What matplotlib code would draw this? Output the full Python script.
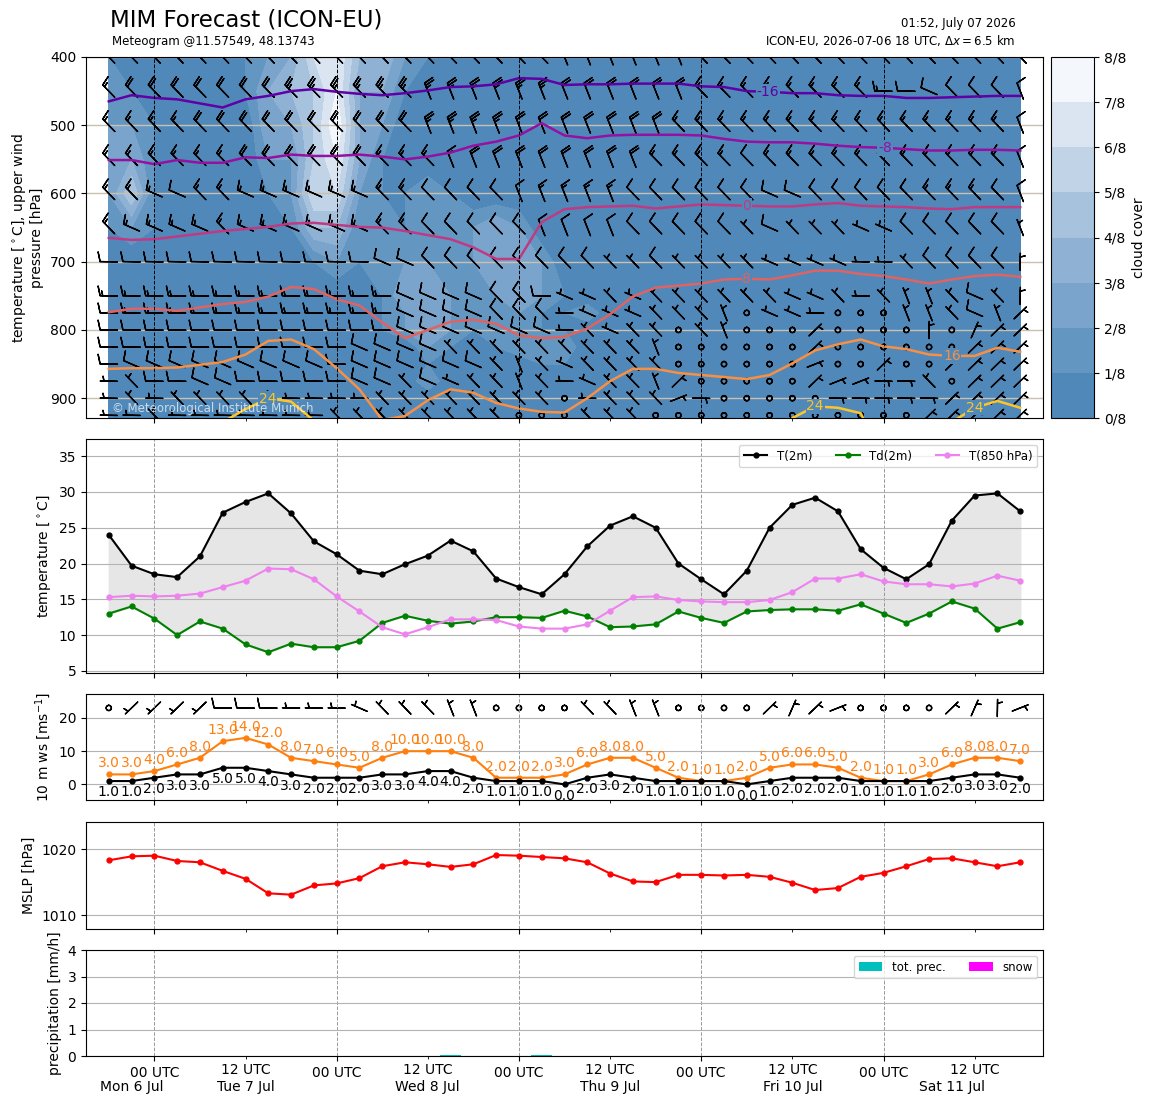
import numpy as np
import matplotlib
matplotlib.use('Agg')
import matplotlib.pyplot as plt
from matplotlib.colors import LinearSegmentedColormap, Normalize

# hours since model start 2026-07-06 18 UTC, 3-hourly
hours = np.arange(0, 121, 3)

# --- surface values -------------------------------------------------------
t2m = [24.0, 19.7, 18.5, 18.1, 21.0, 27.1, 28.6, 29.8, 27.0, 23.1,
       21.3, 19.0, 18.5, 19.9, 21.1, 23.2, 21.7, 17.9, 16.7, 15.7,
       18.5, 22.4, 25.3, 26.6, 25.0, 20.0, 17.8, 15.7, 19.0, 25.0,
       28.2, 29.2, 27.3, 22.0, 19.4, 17.8, 19.9, 26.0, 29.5, 29.8, 27.3]
td2m = [13.0, 14.0, 12.3, 10.0, 11.9, 10.9, 8.7, 7.6, 8.8, 8.3,
        8.3, 9.2, 11.7, 12.7, 12.0, 11.6, 11.9, 12.5, 12.5, 12.4,
        13.4, 12.6, 11.1, 11.2, 11.5, 13.3, 12.4, 11.7, 13.3, 13.5,
        13.6, 13.6, 13.4, 14.3, 13.0, 11.7, 13.0, 14.7, 13.7, 10.9, 11.8]
t850 = [15.3, 15.5, 15.4, 15.5, 15.8, 16.7, 17.6, 19.3, 19.2, 17.8,
        15.4, 13.3, 11.1, 10.1, 11.1, 12.2, 12.2, 12.1, 11.2, 10.9,
        10.9, 11.5, 13.4, 15.3, 15.4, 14.9, 14.7, 14.6, 14.6, 14.9,
        16.0, 17.9, 17.9, 18.5, 17.5, 17.1, 17.1, 16.8, 17.2, 18.3, 17.6]
gust10 = [3, 3, 4, 6, 8, 13, 14, 12, 8, 7, 6, 5, 8, 10, 10, 10, 8, 2, 2, 2,
          3, 6, 8, 8, 5, 2, 1, 1, 2, 5, 6, 6, 5, 2, 1, 1, 3, 6, 8, 8, 7]
ws10 = [1, 1, 2, 3, 3, 5, 5, 4, 3, 2, 2, 2, 3, 3, 4, 4, 2, 1, 1, 1,
        0, 2, 3, 2, 1, 1, 1, 1, 0, 1, 2, 2, 2, 1, 1, 1, 1, 2, 3, 3, 2]
mslp = [1018.3, 1018.9, 1019.0, 1018.2, 1018.0, 1016.7, 1015.5, 1013.3, 1013.1, 1014.5,
        1014.8, 1015.6, 1017.4, 1018.0, 1017.7, 1017.3, 1017.7, 1019.1, 1019.0, 1018.8,
        1018.6, 1018.0, 1016.3, 1015.1, 1015.0, 1016.1, 1016.1, 1016.0, 1016.1, 1015.8,
        1014.9, 1013.8, 1014.1, 1015.8, 1016.4, 1017.4, 1018.5, 1018.6, 1018.0, 1017.4, 1018.0]
prec = [0]*15 + [0.05] + [0]*3 + [0.05] + [0]*21
snow = [0]*41

# 10 m wind barbs: direction in 16 compass points (hex, 0=N, 4=E, 8=S, c=W), speed in 5 kt steps
sfc_dir = "caaaaccccc cdeeeffccc ceeffcccc2 123cccc210 3"
sfc_spd = "0111122211 1111111000 0111100001 1110000111 1"

# --- upper air ------------------------------------------------------------
plevs = [400, 450, 500, 550, 600, 650, 700, 750, 775, 800, 825, 850, 875, 900, 925]
wind_dir = [
    "eeeeeeeeee eeeeeeeeee ffffffeeee eeeeeeeeee e",
    "eeeeeeeeee eeeeffffff ffffffeeee eeeeccdeee f",
    "eeeeeeeeee eeeeffffff fffffeeeee eeeeeeeeee f",
    "eeeeeeeeee eeeeefffff ffffeeeeee eeeeeeeeee f",
    "eeddeedddd ddeeeeeeff fffeeeeeed deeeeeeeee f",
    "eddddedddd ddeeeeeeef fffeeeeeed eeeddeeeee f",
    "cccccccccc ccddeeeeee eeeeeeeeed dddcceeeee 0",
    "cccccccccc cccddddeec ddedeeeeee ddeceffede 0",
    "cccccccccc cccddddeee cdddeeefcd dccccffedf 2",
    "cccccccccc cccddddddd cedeecefcc c2cccc0c12 2",
    "cccccccccc cddddeeeee eeeefccccc c2cccccc22 2",
    "cddddddddd cddddddefe deeeeccccc c3cc2cc222 2",
    "ceccddcccc cddeddeefe cdeef2cccc c23344ec22 2",
    "ceceeeeecc cceeeeeeee cceee34ccc cc44444222 2",
    "cceccccccc eeeeeeeecc ceeecccccc cccccc2222 2",
]
wind_spd = [
    "4444444455 5555555555 4444443333 3333333333 3",
    "3444444455 5555555555 4444443333 3333322222 2",
    "3333444444 4444555544 4444433333 3333333333 2",
    "3333334444 4433334444 4444333323 3333333333 2",
    "3332333333 3333222223 3332222222 2222223332 2",
    "3333333333 3333222222 2222222212 1111122222 1",
    "2222222222 2222222222 2211211111 1111112222 1",
    "3333333333 3332222222 1111111111 1111111121 1",
    "2333333333 3332222222 1111111101 1100011121 1",
    "2222222222 2222222222 1111101100 0100001011 1",
    "2222222222 2222211111 1111100000 0100000011 1",
    "2222222222 2222222111 1111100000 0100100111 1",
    "1122222222 2221211111 1111110000 0111111011 1",
    "1111111111 1111111111 0111111000 0011111111 1",
    "1111111111 1111111100 0111000000 0000001111 1",
]
# cloud cover in eighths on the same levels (plus a clear row at 950 hPa)
cloud_plevs = plevs + [950]
cloud8 = [
    "1000001236 7442100000 0000000000 0000000000 0",
    "2110001345 7331000000 0000000000 0000000000 0",
    "2210000335 8320000000 0000000000 0000000000 0",
    "3310000225 7310000000 0000000000 0000000000 0",
    "2510000126 6211210000 0000000000 0000000000 0",
    "1210000014 4121222320 0000000000 0000000000 0",
    "0000000001 2122222332 0000000000 0000000000 0",
    "0000000000 0113322232 1000000000 0000000000 0",
    "0000000000 0012322221 1200000000 0000000000 0",
    "0000000000 0012321221 1000000000 0000000000 0",
    "0000000000 0000211122 2000000000 0000000000 0",
    "0000000000 0000100001 1000000000 0000000000 0",
    "0000000000 0000200000 0000000000 0000000000 0",
    "0000000000 0000000000 0000000000 0000000000 0",
    "0000000000 0000000000 0000000000 0000000000 0",
    "0000000000 0000000000 0000000000 0000000000 0",
]
# pressure [hPa] of the isotherms
nan = np.nan
iso_temps = [-16, -8, 0, 8, 16, 24]
iso_p = {
    -16: [465, 456, 460, 462, 468, 474, 462, 457, 450, 447, 451, 454, 456, 453, 449, 444,
          443, 440, 431, 432, 441, 440, 440, 439, 439, 439, 443, 444, 450, 451, 453, 453,
          456, 457, 457, 460, 460, 459, 458, 457, 457],
    -8: [551, 551, 557, 551, 555, 555, 547, 548, 543, 545, 545, 543, 546, 550, 546, 540,
         530, 524, 515, 497, 515, 519, 515, 514, 514, 514, 515, 520, 524, 525, 525, 527,
         530, 532, 533, 535, 537, 537, 536, 536, 537],
    0: [665, 668, 667, 663, 659, 655, 652, 649, 644, 643, 646, 649, 650, 655, 661, 667,
        679, 696, 696, 642, 623, 620, 619, 618, 622, 619, 616, 617, 618, 619, 619, 616,
        614, 618, 619, 620, 622, 623, 620, 620, 620],
    8: [774, 769, 769, 772, 767, 762, 759, 751, 737, 740, 755, 764, 789, 812, 800, 788,
        785, 791, 808, 812, 810, 798, 777, 751, 738, 735, 732, 726, 725, 726, 720, 713,
        713, 718, 721, 726, 732, 726, 721, 719, 722],
    16: [857, 856, 856, 855, 851, 847, 836, 816, 814, 828, 856, 887, 932, 926, 903, 887,
         892, 907, 915, 920, 921, 900, 875, 857, 857, 863, 866, 869, 872, 866, 849, 830,
         821, 814, 824, 828, 836, 838, 838, 826, 832],
    24: [nan]*5 + [935, 916, 900, 905, 933] + [nan]*19 + [970, 929, 912, 914, 922, 990]
        + [nan]*2 + [935, 914, 904, 914],
}
iso_label_t = {-16: [86.8], -8: [102.2], 0: [84.0], 8: [84.0], 16: [111.0],
               24: [20.9, 93.0, 114.0]}

major = [6, 30, 54, 78, 102]      # 00 UTC
minor = [18, 42, 66, 90, 114]     # 12 UTC
day_names = ['Mon 6 Jul', 'Tue 7 Jul', 'Wed 8 Jul', 'Thu 9 Jul', 'Fri 10 Jul', 'Sat 11 Jul']
day_t = [3, 18, 42, 66, 90, 111]


def to_uv(dstr, sstr):
    # a tiny offset keeps pure west/east winds away from exact 90/270 deg
    d = np.array([int(c, 16) for c in dstr.replace(' ', '')]) * 22.5 + 1.0
    s = np.array([int(c) for c in sstr.replace(' ', '')]) * 5.0
    r = np.deg2rad(d)
    return -s * np.sin(r), -s * np.cos(r)


W, H = 1155, 1105
fig = plt.figure(figsize=(W / 100, H / 100), dpi=100)


def box(x0, y0, x1, y1):
    return [x0 / W, 1 - y1 / H, (x1 - x0) / W, (y1 - y0) / H]


ax1 = fig.add_axes(box(86, 57, 1043, 418))
cax = fig.add_axes(box(1051, 57, 1094, 418))
ax2 = fig.add_axes(box(86, 439, 1043, 673))
ax3 = fig.add_axes(box(86, 694, 1043, 800))
ax4 = fig.add_axes(box(86, 822, 1043, 929))
ax5 = fig.add_axes(box(86, 950, 1043, 1056))
axes = [ax1, ax2, ax3, ax4, ax5]

barb_kw = dict(length=5.0, pivot='middle', linewidth=1.0, color='k',
               sizes=dict(height=0.55, spacing=0.15))

# --- panel 1: cross section ---------------------------------------------
base = '#4f88b9'
ccmap = LinearSegmentedColormap.from_list('cc', [base, '#9ab9d8', '#f4f7fb'], N=8)
cc = np.array([[int(c) for c in row.replace(' ', '')] for row in cloud8]) / 8.0
cf = ax1.contourf(hours, cloud_plevs, cc, levels=np.arange(9) / 8.0, cmap=ccmap)

U = np.zeros((len(plevs), len(hours)))
V = np.zeros_like(U)
for k in range(len(plevs)):
    U[k], V[k] = to_uv(wind_dir[k], wind_spd[k])
X, Y = np.meshgrid(hours, plevs)
ax1.barbs(X, Y, U, V, zorder=3, **barb_kw)

inorm = Normalize(-26, 31)
for T in iso_temps:
    col = plt.cm.plasma(inorm(T))
    ax1.plot(hours, iso_p[T], color=col, lw=1.8, zorder=4)
    for tl in iso_label_t[T]:
        p = np.interp(tl, hours, np.nan_to_num(np.array(iso_p[T], float), nan=999))
        ax1.text(tl, p, f'{T}', color=col, fontsize=10, ha='center', va='center', zorder=5,
                 bbox=dict(boxstyle='square,pad=0.05', fc=base, ec='none'))

ax1.set_ylim(929, 400)
ax1.set_yticks([400, 500, 600, 700, 800, 900])
ax1.grid(axis='y', color='#c8c0b0', lw=1)
for m in major:
    ax1.axvline(m, color='k', ls='--', lw=0.7, zorder=4)
ax1.set_ylabel('temperature [$^\\circ$C], upper wind\npressure [hPa]')
ax1.text(0.027, 0.008, '\u00a9 Meteorological Institute Munich', transform=ax1.transAxes,
         color='white', alpha=0.7, fontsize=8.5, va='bottom', zorder=6)

cb = fig.colorbar(cf, cax=cax, ticks=np.arange(9) / 8.0)
cb.set_ticklabels([f'{i}/8' for i in range(9)])
cb.set_label('cloud cover')

# --- panel 2: temperatures ----------------------------------------------
ax2.fill_between(hours, td2m, t2m, color='0.9')
ax2.plot(hours, t2m, 'o-', color='k', ms=3.5, lw=1.5, label='T(2m)')
ax2.plot(hours, td2m, 'o-', color='green', ms=3.5, lw=1.5, label='Td(2m)')
ax2.plot(hours, t850, 'o-', color='violet', ms=3.5, lw=1.5, label='T(850 hPa)')
ax2.set_ylim(4.7, 37.4)
ax2.set_yticks([5, 10, 15, 20, 25, 30, 35])
ax2.set_ylabel('temperature [$^\\circ$C]')
ax2.legend(loc='upper right', ncol=3, fontsize=8.5)

# --- panel 3: 10 m wind ---------------------------------------------------
ax3.plot(hours, gust10, 'o-', color='tab:orange', ms=3.5, lw=1.5)
ax3.plot(hours, ws10, 'o-', color='k', ms=3.5, lw=1.5)
for t, g, w in zip(hours, gust10, ws10):
    ax3.annotate(f'{g:.1f}', (t, g), xytext=(0, 3), textcoords='offset points',
                 ha='center', va='bottom', color='tab:orange', fontsize=10)
    ax3.annotate(f'{w:.1f}', (t, w), xytext=(0, -3), textcoords='offset points',
                 ha='center', va='top', color='k', fontsize=10)
su, sv = to_uv(sfc_dir, sfc_spd)
ax3.barbs(hours, np.full(len(hours), 23), su, sv, **barb_kw)
ax3.set_ylim(-4.7, 27.2)
ax3.set_yticks([0, 10, 20])
ax3.set_ylabel('10 m ws [ms$^{-1}$]')

# --- panel 4: MSLP --------------------------------------------------------
ax4.plot(hours, mslp, 'o-', color='red', ms=3.5, lw=1.5)
ax4.set_ylim(1007.9, 1024.1)
ax4.set_yticks([1010, 1020])
ax4.set_ylabel('MSLP [hPa]')

# --- panel 5: precipitation ---------------------------------------------
ax5.bar(hours, prec, width=2.8, color='c', label='tot. prec.')
ax5.bar(hours, snow, width=2.8, color='magenta', label='snow')
ax5.set_ylim(0, 4)
ax5.set_yticks([0, 1, 2, 3, 4])
ax5.set_ylabel('precipitation [mm/h]')
ax5.legend(loc='upper right', ncol=2, fontsize=8.5)

for ax in axes:
    ax.set_xlim(-3, 123)
    ax.set_xticks(major)
    ax.set_xticks(minor, minor=True)
    if ax is not ax1:
        ax.grid(axis='y', color='0.7')
        ax.grid(axis='x', which='major', color='0.6', ls='--', lw=0.7)
    if ax is ax5:
        ax.set_xticklabels(['00 UTC'] * len(major))
        ax.set_xticklabels(['12 UTC'] * len(minor), minor=True)
    else:
        ax.set_xticklabels([])
        ax.set_xticklabels([], minor=True)

for name, t in zip(day_names, day_t):
    ax5.annotate(name, (t, 0), xycoords=('data', 'axes fraction'), xytext=(0, -22.5),
                 textcoords='offset points', ha='center', va='center', fontsize=10)

fig.text(110 / W, 1 - 20 / H, 'MIM Forecast (ICON-EU)', fontsize=16.5, va='center')
fig.text(112 / W, 1 - 41 / H, 'Meteogram @11.57549, 48.13743', fontsize=8.5, va='center')
fig.text(1016 / W, 1 - 23 / H, '01:52, July 07 2026', fontsize=8.5, va='center', ha='right')
fig.text(1016 / W, 1 - 41 / H, 'ICON-EU, 2026-07-06 18 UTC, $\\Delta x = 6.5$ km',
         fontsize=8.5, va='center', ha='right')

fig.savefig('out.png', dpi=100)
